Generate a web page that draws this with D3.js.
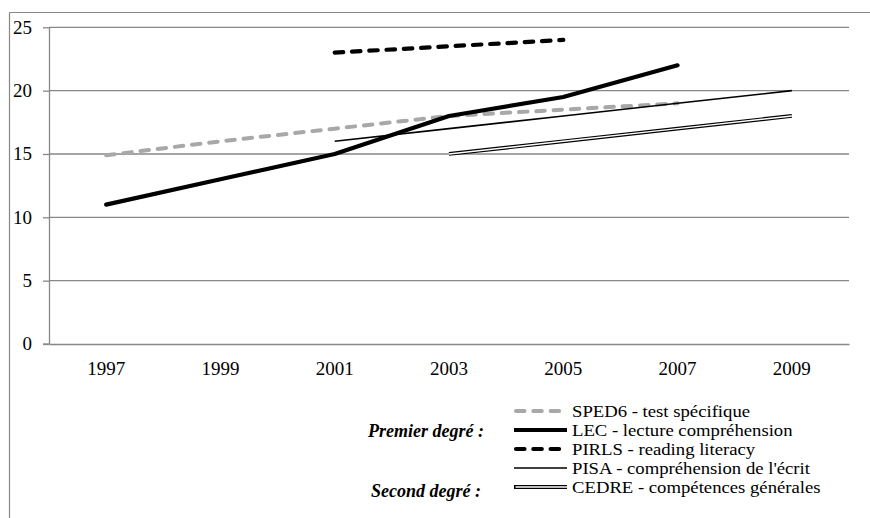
<!DOCTYPE html>
<html>
<head>
<meta charset="utf-8">
<script src="https://cdn.jsdelivr.net/npm/d3@7/dist/d3.min.js"></script>
<style>
  html, body { margin: 0; padding: 0; background: #fff; }
  svg { display: block; }
  text { font-family: "Liberation Serif", "Times New Roman", serif; fill: #000; }
</style>
</head>
<body>
<svg id="chart" width="870" height="518"></svg>
<script>
// ---- Data ----
const years = ["1997", "1999", "2001", "2003", "2005", "2007", "2009"];
const yTicks = [0, 5, 10, 15, 20, 25];
const sped6 = [14.9, 16, 17, 18, 18.5, 19, null];
const lec   = [11, 13, 15, 18, 19.5, 22, null];
const pirls = [null, null, 23, null, 24, null, null];
const pisa  = [null, null, 16, 17, 18, 19, 20];
const cedre = [null, null, null, 15, 16, 17, 18];
const seriesNames = [
  "SPED6 - test spécifique",
  "LEC - lecture compréhension",
  "PIRLS - reading literacy",
  "PISA - compréhension de l'écrit",
  "CEDRE - compétences générales"
];
const groupLabels = ["Premier degré :", "Second degré :"];

// ---- Layout ----
const FONT = "'Liberation Serif', 'Times New Roman', serif";
const svg = d3.select("#chart");
const plot = { left: 49, right: 849, top: 27.3, bottom: 344 };
const grey = "#878787";

const x = d3.scaleBand().domain(years).range([plot.left, plot.right]).padding(0);
const y = d3.scaleLinear().domain([0, 25]).range([plot.bottom, plot.top]);
const cx = i => x(years[i]) + x.bandwidth() / 2;

// outer frame (top + left)
svg.append("line").attr("x1", 9.5).attr("x2", 870).attr("y1", 12.5).attr("y2", 12.5)
  .attr("stroke", grey).attr("stroke-width", 1.2);
svg.append("line").attr("x1", 9.5).attr("x2", 9.5).attr("y1", 12.5).attr("y2", 518)
  .attr("stroke", grey).attr("stroke-width", 1.2);

// gridlines
svg.append("g").selectAll("line").data(yTicks.filter(t => t > 0)).join("line")
  .attr("x1", plot.left).attr("x2", plot.right)
  .attr("y1", d => y(d)).attr("y2", d => y(d))
  .attr("stroke", grey).attr("stroke-width", 1.3);

// y axis
const yAxis = svg.append("g").attr("transform", `translate(${plot.left},0)`)
  .call(d3.axisLeft(y).tickValues(yTicks).tickSize(6).tickPadding(11).tickSizeOuter(0));
yAxis.select(".domain").attr("stroke", grey).attr("stroke-width", 1.3);
yAxis.selectAll(".tick line").attr("stroke", grey).attr("stroke-width", 1.3);
yAxis.selectAll(".tick text").attr("font-size", 19).attr("dy", "0.3em")
  .style("font-family", FONT).attr("fill", "#000");

// x axis
const xAxis = svg.append("g").attr("transform", `translate(0,${plot.bottom})`)
  .call(d3.axisBottom(x).tickSize(0).tickPadding(18).tickSizeOuter(0));
xAxis.select(".domain").attr("stroke", grey).attr("stroke-width", 1.6);
xAxis.selectAll(".tick text").attr("font-size", 19)
  .style("font-family", FONT).attr("fill", "#000");
svg.append("line").attr("x1", plot.left - 6).attr("x2", plot.left)
  .attr("y1", plot.bottom).attr("y2", plot.bottom).attr("stroke", grey).attr("stroke-width", 1.3);

// ---- Series ----
const line = d3.line().x(d => cx(d.i)).y(d => y(d.v));
const defined = arr => arr.map((v, i) => ({ v, i })).filter(d => d.v != null);

const styles = [
  { data: sped6, stroke: "#a8a8a8", width: 4, dash: "8.5,8.8", cap: "round" },
  { data: lec,   stroke: "#000",    width: 4.2, dash: null, cap: "round" },
  { data: pirls, stroke: "#000",    width: 4.2, dash: "8.5,8.8", cap: "round" },
  { data: pisa,  stroke: "#000",    width: 1.6, dash: null, cap: "butt" },
  { data: cedre, stroke: "#000",    width: 3.8, dash: null, cap: "butt", double: true }
];

styles.forEach(s => {
  const path = svg.append("path").datum(defined(s.data)).attr("d", line)
    .attr("fill", "none").attr("stroke", s.stroke).attr("stroke-width", s.width)
    .attr("stroke-linecap", s.cap).attr("stroke-linejoin", "round");
  if (s.dash) path.attr("stroke-dasharray", s.dash);
  if (s.double) {
    svg.append("path").datum(defined(s.data)).attr("d", line)
      .attr("fill", "none").attr("stroke", "#fff").attr("stroke-width", 1.4);
  }
});

// ---- Legend ----
const lg = { x1: 514, x2: 567, tx: 572, y0: 411, step: 19 };
const leg = svg.append("g");
styles.forEach((s, i) => {
  const yy = lg.y0 + i * lg.step;
  const l = leg.append("line").attr("x1", lg.x1).attr("x2", lg.x2).attr("y1", yy).attr("y2", yy)
    .attr("stroke", s.stroke).attr("stroke-width", s.width).attr("stroke-linecap", s.dash ? "round" : "butt");
  if (s.dash) l.attr("stroke-dasharray", s.dash).attr("x1", lg.x1 + 2).attr("x2", lg.x2 - 4);
  if (s.double) {
    leg.append("line").attr("x1", lg.x1 + 1.5).attr("x2", lg.x2).attr("y1", yy).attr("y2", yy)
      .attr("stroke", "#fff").attr("stroke-width", 1.4);
  }
  leg.append("text").attr("transform", `translate(${lg.tx},${yy + 6}) scale(1.1,1)`)
    .style("font-family", FONT).attr("font-size", 17).text(seriesNames[i]);
});

// group labels
svg.append("text").attr("x", 484).attr("y", 437).attr("text-anchor", "end").style("font-family", FONT)
  .attr("font-size", 18).attr("font-weight", "bold").attr("font-style", "italic").text(groupLabels[0]);
svg.append("text").attr("x", 481).attr("y", 497).attr("text-anchor", "end").style("font-family", FONT)
  .attr("font-size", 18).attr("font-weight", "bold").attr("font-style", "italic").text(groupLabels[1]);
</script>
</body>
</html>
